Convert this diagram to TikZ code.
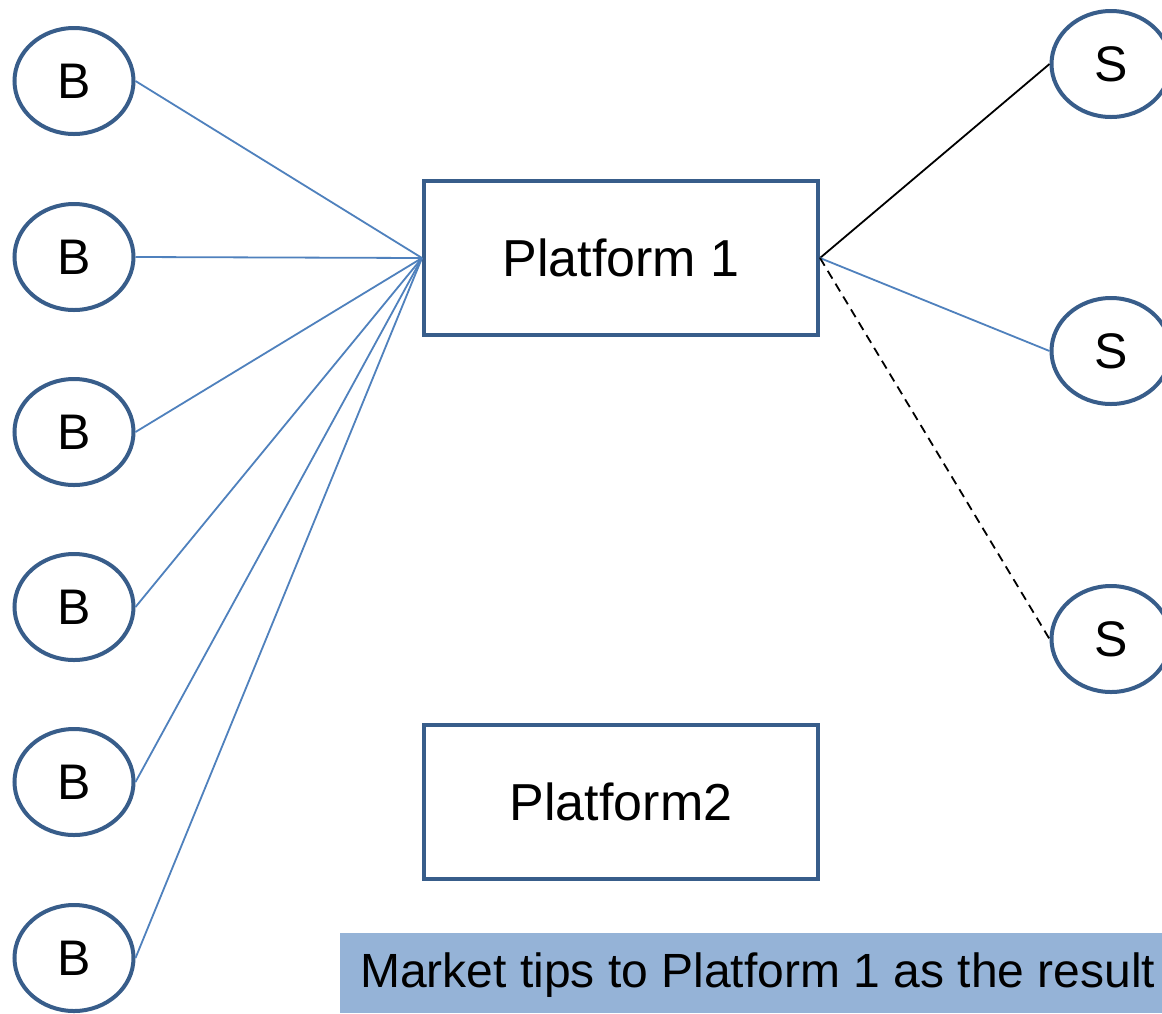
\documentclass[tikz,border=0pt]{standalone}
\usepackage{fontspec}
\setmainfont{Liberation Sans}
\usetikzlibrary{shapes.geometric}
\definecolor{edgeblue}{HTML}{385D8A}
\definecolor{lineblue}{HTML}{4F81BD}
\definecolor{tipfill}{HTML}{95B3D7}
\begin{document}
\begin{tikzpicture}[x=1pt,y=-1pt,
  agent/.style={ellipse,draw=edgeblue,line width=4pt,minimum width=119pt,minimum height=106pt,inner sep=0pt,font=\fontsize{50}{58}\selectfont},
  platbox/.style={rectangle,draw=edgeblue,line width=4pt,minimum width=394pt,minimum height=154pt,font=\fontsize{52}{60}\selectfont},
  bline/.style={lineblue,line width=1.8pt},
  kline/.style={black,line width=1.8pt}]
\clip (0,0) rectangle (1162,1013);
\fill[white] (0,0) rectangle (1162,1013);
\node[agent] (b1) at (74,81) {B};
\node[agent] (b2) at (74,257) {B};
\node[agent] (b3) at (74,432) {B};
\node[agent] (b4) at (74,607) {B};
\node[agent] (b5) at (74,782) {B};
\node[agent] (b6) at (74,958) {B};
\node[agent] (s1) at (1111,64) {S};
\node[agent] (s2) at (1111,351) {S};
\node[agent] (s3) at (1111,639) {S};
\node[platbox] (p1) at (621,258) {Platform 1\hspace{14pt}};
\node[platbox] (p2) at (621,802) {Platform2\hspace{22pt}};
\node[fill=tipfill,minimum width=822pt,minimum height=80pt,anchor=north west,inner sep=0pt] (tip) at (340,933) {};
\node[anchor=west,font=\fontsize{48}{56}\selectfont,inner sep=0pt] (tiptext) at (360,975) {Market tips to Platform 1 as the result};
\foreach \b in {b1,b2,b3,b4,b5,b6}{\draw[bline] (\b.east) -- (p1.west);}
\draw[kline] (p1.east) -- (s1.west);
\draw[bline] (p1.east) -- (s2.west);
\draw[kline,dashed,dash pattern=on 9pt off 6pt] (p1.east) -- (s3.west);
\end{tikzpicture}
\end{document}
